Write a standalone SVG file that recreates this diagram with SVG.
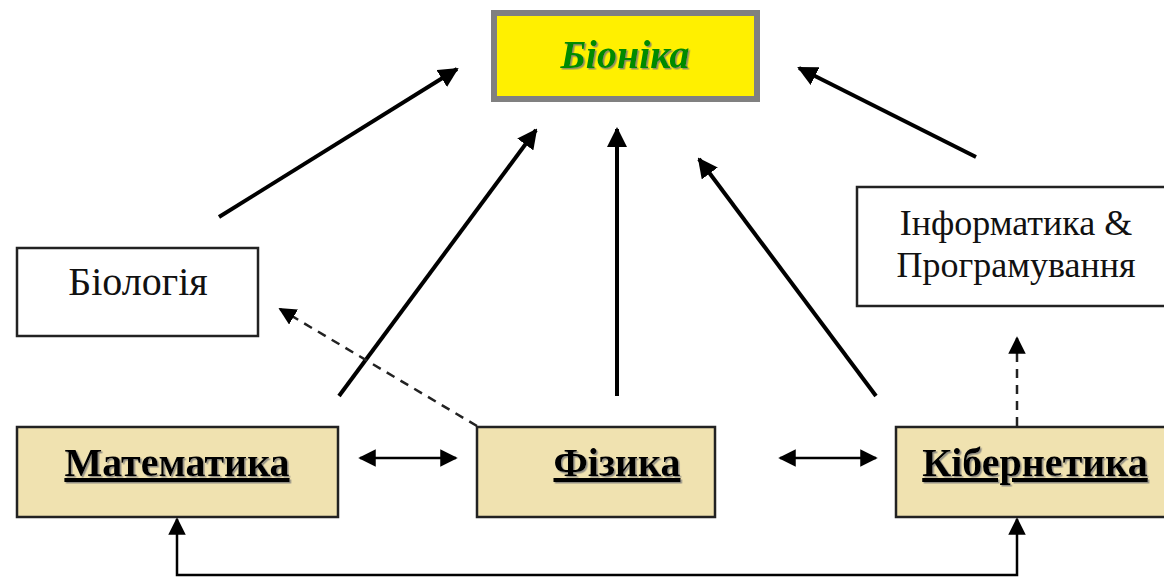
<svg xmlns="http://www.w3.org/2000/svg" width="1164" height="577" viewBox="0 0 1164 577">
<defs>
<style>
.box{fill:#fff;stroke:#222;stroke-width:2.5}
.tan{fill:#F0E2B0;stroke:#222;stroke-width:2.5}
.reg{font-family:"Liberation Serif",serif;fill:#111;text-anchor:middle}
.bold{font-family:"Liberation Serif",serif;font-size:40px;font-weight:bold;fill:#000;text-anchor:middle;text-decoration:underline}
.main{stroke:#000;stroke-width:4;fill:none}
.thin{stroke:#000;stroke-width:2.5;fill:none}
.dash{stroke:#222;stroke-width:2.5;fill:none;stroke-dasharray:9 7}
</style>
<marker id="ah" viewBox="0 0 10 10" refX="9" refY="5" markerWidth="5" markerHeight="5" orient="auto-start-reverse" markerUnits="strokeWidth"><path d="M0,0 L10,5 L0,10 z" fill="#000"/></marker>
<marker id="ahs" viewBox="0 0 10 10" refX="9" refY="5" markerWidth="7" markerHeight="7" orient="auto-start-reverse" markerUnits="strokeWidth"><path d="M0,0 L10,5 L0,10 z" fill="#000"/></marker>
<filter id="sh" x="-5%" y="-10%" width="115%" height="130%"><feDropShadow dx="1.5" dy="1.5" stdDeviation="0.6" flood-color="#777" flood-opacity="0.8"/></filter>
</defs>
<rect width="1164" height="577" fill="#fff"/>
<g id="bionika">
<rect x="494" y="13" width="263" height="86" fill="#FFF000" stroke="#808080" stroke-width="6"/>
<text x="625" y="68" font-family="'Liberation Serif',serif" font-size="40" font-weight="bold" font-style="italic" fill="#008A00" text-anchor="middle" filter="url(#sh)">Біоніка</text>
</g>
<g id="biologiya">
<rect class="box" x="17" y="248" width="241" height="88"/>
<text class="reg" x="138" y="295" font-size="40">Біологія</text>
</g>
<g id="informatyka">
<rect class="box" x="857" y="187" width="320" height="119"/>
<text class="reg" x="1016" y="235" font-size="36">Інформатика &amp;</text>
<text class="reg" x="1016" y="277" font-size="36">Програмування</text>
</g>
<g id="matematyka">
<rect class="tan" x="17" y="427" width="321" height="90"/>
<text class="bold" x="177" y="476" filter="url(#sh)">Математика</text>
</g>
<g id="fizyka">
<rect class="tan" x="477" y="427" width="238" height="90"/>
<text class="bold" x="617" y="476" filter="url(#sh)">Фізика</text>
</g>
<g id="kibernetyka">
<rect class="tan" x="896" y="427" width="280" height="90"/>
<text class="bold" x="1035" y="476" filter="url(#sh)">Кібернетика</text>
</g>
<g id="connectors">
<line class="main" x1="219" y1="217" x2="457" y2="69" marker-end="url(#ah)"/>
<line class="main" x1="339" y1="396" x2="536" y2="130" marker-end="url(#ah)"/>
<line class="main" x1="617" y1="396" x2="617" y2="129" marker-end="url(#ah)"/>
<line class="main" x1="876" y1="396" x2="699" y2="159" marker-end="url(#ah)"/>
<line class="main" x1="976" y1="157" x2="799" y2="68" marker-end="url(#ah)"/>
<line class="dash" x1="477" y1="426" x2="280" y2="309" marker-end="url(#ahs)"/>
<line class="dash" x1="1017" y1="426" x2="1017" y2="338" marker-end="url(#ahs)"/>
<line class="thin" x1="360" y1="458" x2="456" y2="458" marker-start="url(#ahs)" marker-end="url(#ahs)"/>
<line class="thin" x1="780" y1="458" x2="876" y2="458" marker-start="url(#ahs)" marker-end="url(#ahs)"/>
<polyline class="thin" points="177,519 177,575 1017,575 1017,519" marker-start="url(#ahs)" marker-end="url(#ahs)"/>
</g>
</svg>
